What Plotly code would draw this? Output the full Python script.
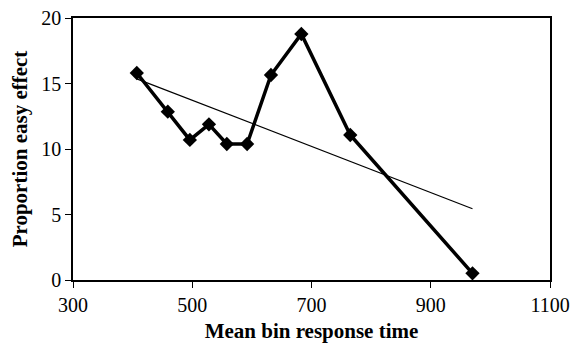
import numpy as np
import plotly.graph_objects as go

rt = [407, 459, 496, 528, 558, 592, 632, 683, 765, 970]
effect = [15.8, 12.85, 10.69, 11.88, 10.38, 10.38, 15.65, 18.78, 11.07, 0.51]
x_ticks = [300, 500, 700, 900, 1100]
y_ticks = [0, 5, 10, 15, 20]

slope, intercept = np.polyfit(rt, effect, 1)
trend_x = [min(rt), max(rt)]
trend_y = [slope * v + intercept for v in trend_x]

fig = go.Figure()
fig.add_trace(go.Scatter(x=trend_x, y=trend_y, mode="lines",
                         line=dict(color="black", width=1.2), showlegend=False))
fig.add_trace(go.Scatter(x=rt, y=effect, mode="lines+markers",
                         line=dict(color="black", width=3.5),
                         marker=dict(symbol="diamond", size=11, color="black"),
                         showlegend=False))

font = dict(family="Liberation Serif, Times New Roman, serif", size=20, color="black")
fig.update_layout(
    width=573, height=335,
    margin=dict(l=65, r=31, t=10, b=63),
    paper_bgcolor="white", plot_bgcolor="white",
    font=font,
)
fig.update_xaxes(range=[300, 1100], tickvals=x_ticks, ticks="outside", ticklen=6,
                 tickcolor="black", showline=True, linecolor="black", linewidth=1.5,
                 mirror=True, showgrid=False, zeroline=False, automargin=False,
                 ticklabeloverflow="allow",
                 title=dict(text="<b>Mean bin response time</b>", standoff=10,
                            font=dict(size=21)))
fig.update_yaxes(range=[0, 20], tickvals=y_ticks, ticks="outside", ticklen=6,
                 tickcolor="black", showline=True, linecolor="black", linewidth=1.5,
                 mirror=True, showgrid=False, zeroline=False, automargin=False,
                 ticklabeloverflow="allow",
                 title=dict(text="<b>Proportion easy effect</b>", standoff=8,
                            font=dict(size=21)))
fig.write_html("out.html")
